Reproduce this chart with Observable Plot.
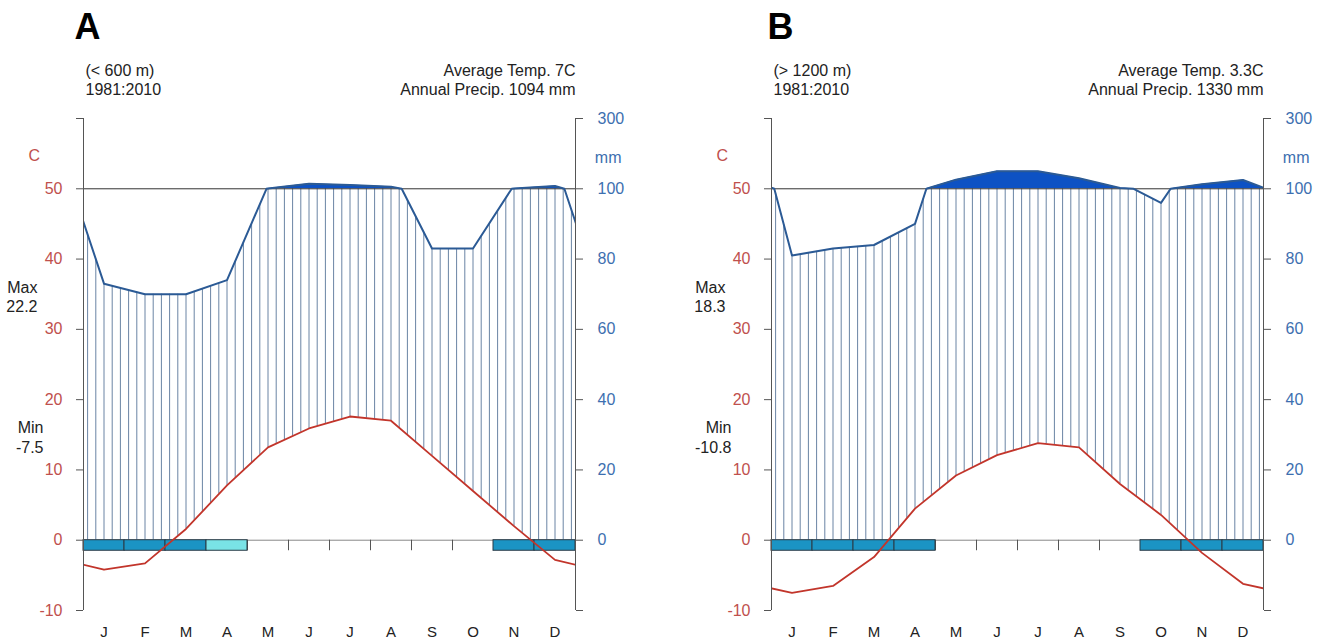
<!DOCTYPE html>
<html><head><meta charset="utf-8">
<script src="https://cdn.jsdelivr.net/npm/d3@7"></script>
<script src="https://cdn.jsdelivr.net/npm/@observablehq/plot@0.6"></script>
<style>
body{margin:0;background:#fff;}
#wrap{position:relative;width:1334px;height:642px;display:flex;}
</style></head><body>
<div id="wrap"></div>
<script>
// ---------- data ----------
const months = ["J","F","M","A","M","J","J","A","S","O","N","D"];
const tempA = [-4.2,-3.3,1.6,7.8,13.2,15.9,17.6,17.0,12.0,7.0,2.0,-2.8];
const precA = [73,70,70,74,101,114,111,106,83,83,101,108];
const frostA = ["sure","sure","sure","probable",null,null,null,null,null,null,"sure","sure"];
const tempB = [-7.5,-6.5,-2.4,4.5,9.2,12.1,13.8,13.2,8.0,3.6,-1.8,-6.2];
const precB = [81,83,84,90,126,150,150,130,102,96,113,125];
const frostB = ["sure","sure","sure","sure",null,null,null,null,null,"sure","sure","sure"];
const tempTicks = [-10,0,10,20,30,40,50,60];
const precTicks = [0,20,40,60,80,100,300];
const panels = [
  {tag:"A", site:"(< 600 m)", period:"1981:2010", avgT:"7", annualP:"1094", tmax:"22.2", tmin:"-7.5",
   temp:tempA, prec:precA, frost:frostA, marginLeft:83, marginRight:92, tagDx:-9},
  {tag:"B", site:"(> 1200 m)", period:"1981:2010", avgT:"3.3", annualP:"1330", tmax:"18.3", tmin:"-10.8",
   temp:tempB, prec:precB, frost:frostB, marginLeft:104, marginRight:71, tagDx:-4}
];

// ---------- helpers ----------
const FONT = '"Liberation Sans", Arial, sans-serif';
const TCOL = "#c0504d", PCOL = "#3d6fb0";
const pScale = p => p <= 100 ? p / 2 : 50 + (p - 100) / 20;   // mm -> temperature units
const frostDepth = 1.5;

function curvePts(vals, withCross) {
  const xs = [-0.5, ...d3.range(12).map(i => i + 0.5), 12.5];
  const vs = [vals[11], ...vals, vals[0]];
  const out = [];
  for (let i = 0; i < xs.length; i++) {
    out.push({x: xs[i], v: vs[i]});
    if (withCross && i < xs.length - 1 && (vs[i] - 100) * (vs[i + 1] - 100) < 0) {
      const t = (100 - vs[i]) / (vs[i + 1] - vs[i]);
      out.push({x: xs[i] + t * (xs[i + 1] - xs[i]), v: 100});
    }
  }
  return out;
}
function interp(pts, x) {
  for (let i = 0; i < pts.length - 1; i++) {
    const a = pts[i], b = pts[i + 1];
    if (x >= a.x && x <= b.x) return a.y + (b.y - a.y) * (x - a.x) / (b.x - a.x);
  }
  return NaN;
}

function makePanel(c) {
  const T = curvePts(c.temp, false).map(d => ({x: d.x, y: d.v}));
  const P = curvePts(c.prec, true).map(d => ({x: d.x, y: pScale(d.v)}));
  const hatch = d3.range(60).map(i => (i + 0.5) / 5).map(x => ({
    x, y1: Math.min(interp(P, x), 50), y2: Math.max(interp(T, x), 0)
  })).filter(d => d.y1 > d.y2);
  const frost = c.frost.map((f, i) => ({x1: i, x2: i + 1, f})).filter(d => d.f);
  const rightPos = precTicks.map(pScale);
  const rightLab = new Map(precTicks.map(p => [pScale(p), String(p)]));

  return Plot.plot({
    width: 667, height: 642,
    marginLeft: c.marginLeft, marginRight: c.marginRight, marginTop: 118, marginBottom: 32,
    x: {domain: [0, 12], axis: null},
    y: {domain: [-10, 60], axis: null},
    style: {fontFamily: FONT, fontSize: "16px", background: "white", overflow: "visible", color: "#222"},
    marks: [
      Plot.ruleX(hatch, {x: "x", y1: "y1", y2: "y2", stroke: "#6a84a4", strokeWidth: 1}),
      Plot.areaY(P, {x: "x", y1: 50, y2: d => Math.max(d.y, 50), fill: "#0d52c4", clip: true}),
      Plot.ruleY([0], {stroke: "#888"}),
      Plot.ruleX(d3.range(1, 12), {y1: 0, y2: -frostDepth, stroke: "#555"}),
      Plot.ruleY([50], {stroke: "#333"}),
      Plot.line(P, {x: "x", y: "y", stroke: "#2b5a95", strokeWidth: 2, clip: true}),
      Plot.rect(frost, {x1: "x1", x2: "x2", y1: -frostDepth, y2: 0,
        fill: d => d.f === "sure" ? "#1b94c4" : "#79e3e6", stroke: "#2a3a45", strokeWidth: 1}),
      Plot.line(T, {x: "x", y: "y", stroke: "#c2352b", strokeWidth: 1.8, clip: true}),
      Plot.ruleX([0, 12], {y1: -10, y2: 60, stroke: "#555"}),
      // left temperature axis
      Plot.axisY({anchor: "left", ticks: tempTicks, tickSize: 7, tickFormat: () => "", color: "#555"}),
      Plot.axisY({anchor: "left", ticks: tempTicks.filter(t => t < 60), tickSize: 0, tickPadding: 21,
        tickFormat: d => String(d), color: TCOL, fontSize: 16}),
      // right precipitation axis
      Plot.axisY({anchor: "right", ticks: [-10, ...rightPos], tickSize: 7, tickFormat: () => "", color: "#555"}),
      Plot.axisY({anchor: "right", ticks: rightPos, tickSize: 0, tickPadding: 22,
        tickFormat: d => rightLab.get(d), color: PCOL, fontSize: 16}),
      // month labels
      Plot.axisX({ticks: d3.range(12).map(i => i + 0.5), tickFormat: d => months[Math.floor(d)],
        tickSize: 0, tickPadding: 16, fontSize: 15, color: "#222"}),
      // unit labels
      Plot.text(["C"], {text: d => d, frameAnchor: "top-left", lineAnchor: "middle", dx: -55, dy: 37, fill: TCOL, fontSize: 16}),
      Plot.text(["mm"], {text: d => d, frameAnchor: "top-right", lineAnchor: "middle", dx: 46, dy: 39, fill: PCOL, fontSize: 16}),
      // headers
      Plot.text([`${c.site}\n${c.period}`], {text: d => d, frameAnchor: "top-left", textAnchor: "start",
        lineAnchor: "middle", dx: 2, dy: -39.5, lineHeight: 1.19, fontSize: 16, fill: "#222"}),
      Plot.text([`Average Temp. ${c.avgT}C\nAnnual Precip. ${c.annualP} mm`], {text: d => d,
        frameAnchor: "top-right", textAnchor: "end", lineAnchor: "middle", dy: -39.5, lineHeight: 1.19,
        fontSize: 16, fill: "#222"}),
      // max / min
      Plot.text([{t: `Max\n${c.tmax}`, y: 34.7}], {text: "t", y: "y",
        frameAnchor: "left", textAnchor: "end", dx: -46, lineHeight: 1.19, fontSize: 16, fill: "#222"}),
      Plot.text([{t: `Min\n${c.tmin}`, y: 14.7}], {text: "t", y: "y",
        frameAnchor: "left", textAnchor: "end", dx: -40, lineHeight: 1.19, fontSize: 16, fill: "#222"}),
      // panel tag
      Plot.text([c.tag], {text: d => d, frameAnchor: "top-left", lineAnchor: "middle", dx: c.tagDx, dy: -91,
        fontSize: 36, fontWeight: "bold", fill: "#000"})
    ]
  });
}
const wrap = document.getElementById("wrap");
for (const p of panels) wrap.appendChild(makePanel(p));
</script>
</body></html>
